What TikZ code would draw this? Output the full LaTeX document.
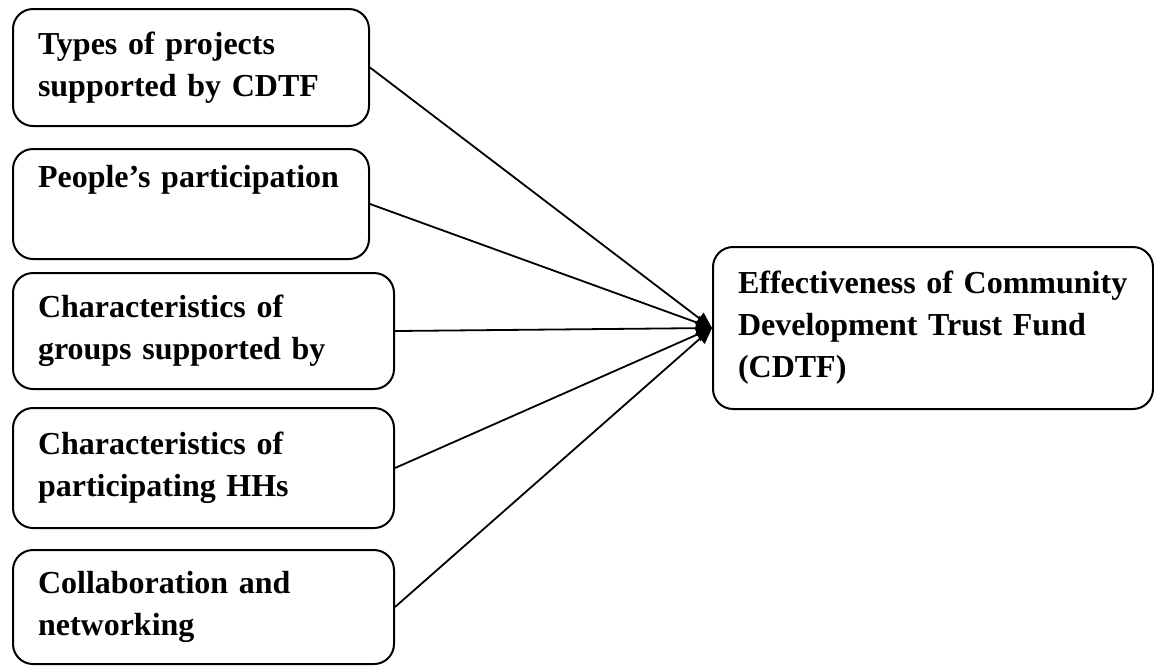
\documentclass[tikz,border=0pt]{standalone}
\usepackage{fontspec}
\setmainfont{Liberation Serif}
\usetikzlibrary{arrows.meta}

\tikzset{
  factorbox/.style={draw, line width=1pt, rounded corners=10pt, anchor=north west,
    align=left, inner xsep=12.5pt, inner ysep=0pt,
    font=\bfseries\fontsize{16}{21}\selectfont},
  link/.style={line width=0.9pt, -{Triangle[length=8pt,width=7pt]}}
}

\begin{document}
\begin{tikzpicture}[x=0.5pt,y=-0.5pt]
    \useasboundingbox (0,0) rectangle (1154,666);

    % Left column: the factors
    \node[factorbox, text width=153pt, minimum height=58.5pt] (types) at (12,8)
        {Types of projects\\supported by CDTF};
    \node[factorbox, text width=153pt, minimum height=55pt] (people) at (12,148)
        {People's participation\\\strut};
    \node[factorbox, text width=165.5pt, minimum height=58pt] (groups) at (12,272)
        {Characteristics of\\groups supported by};
    \node[factorbox, text width=165.5pt, minimum height=60pt] (households) at (12,407)
        {Characteristics of\\participating HHs};
    \node[factorbox, text width=165.5pt, minimum height=57pt] (network) at (12,549)
        {Collaboration and\\networking};

    % Right: the outcome
    \node[factorbox, text width=195pt, minimum height=81pt] (effect) at (712,246)
        {Effectiveness of Community\\Development Trust Fund\\(CDTF)};

    % Links
    \foreach \src in {types,people,groups,households,network}
        \draw[link] (\src.east) -- (effect.west);
\end{tikzpicture}
\end{document}
